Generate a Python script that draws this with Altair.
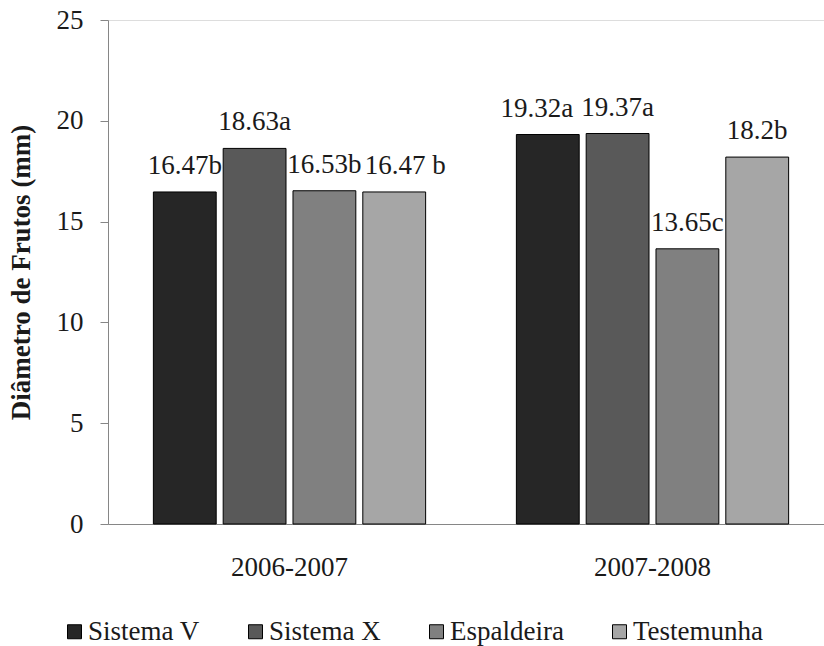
import altair as alt
import pandas as pd

periods = ["2006-2007", "2007-2008"]
systems = ["Sistema V", "Sistema X", "Espaldeira", "Testemunha"]
values_2006 = [16.47, 18.63, 16.53, 16.47]
values_2007 = [19.32, 19.37, 13.65, 18.2]
labels_2006 = ["16.47b", "18.63a", "16.53b", "16.47 b"]
labels_2007 = ["19.32a", "19.37a", "13.65c", "18.2b"]
colors = ["#262626", "#595959", "#808080", "#a6a6a6"]

rows = []
for period, vals, labs in [(periods[0], values_2006, labels_2006), (periods[1], values_2007, labels_2007)]:
    for s, v, l in zip(systems, vals, labs):
        rows.append({"period": period, "system": s, "value": v, "label": l})
df = pd.DataFrame(rows)

FONT = "Liberation Serif"
TXT = "#1a1a1a"

base = alt.Chart(df).encode(
    x=alt.X(
        "period:N",
        scale=alt.Scale(domain=periods, range=[0, 726], paddingInner=0, paddingOuter=0),
        axis=alt.Axis(title=None, ticks=False, labelPadding=30, labelAngle=0,
                      domainColor="#868686", labelFontSize=27, labelFont=FONT,
                      labelColor=TXT),
    ),
    xOffset=alt.XOffset("system:N",
                        scale=alt.Scale(domain=systems, paddingInner=0.1, paddingOuter=0.65)),
    y=alt.Y(
        "value:Q",
        scale=alt.Scale(domain=[0, 25]),
        axis=alt.Axis(values=[0, 5, 10, 15, 20, 25], tickSize=8, grid=False,
                      title="Diâmetro de Frutos (mm)", titleFont=FONT, titleFontSize=27,
                      titleFontWeight="bold", titleColor=TXT, titlePadding=21,
                      labelFont=FONT, labelFontSize=27, labelPadding=17, labelColor=TXT,
                      domainColor="#868686", tickColor="#868686"),
    ),
)

bars = base.mark_bar(stroke="black", strokeWidth=1).encode(
    color=alt.Color(
        "system:N",
        scale=alt.Scale(domain=systems, range=colors),
        legend=alt.Legend(orient="none", legendX=-47, legendY=598, direction="horizontal",
                          columns=4, symbolType="square", symbolSize=196,
                          symbolStrokeColor="black", symbolStrokeWidth=1,
                          labelFont=FONT, labelFontSize=27, labelColor=TXT,
                          labelOffset=0, columnPadding=42, title=None),
    )
)

text_style = dict(baseline="alphabetic", dy=-18, font=FONT, fontSize=27, color=TXT)
shift_left = "19.32a"
shift_right = "16.47 b"

text = base.mark_text(**text_style).encode(text="label:N").transform_filter(
    (alt.datum.label != shift_left) & (alt.datum.label != shift_right)
)
text_left = base.mark_text(dx=-11, **text_style).encode(text="label:N").transform_filter(
    alt.datum.label == shift_left
)
text_right = base.mark_text(dx=11, **text_style).encode(text="label:N").transform_filter(
    alt.datum.label == shift_right
)

chart = alt.layer(bars, text, text_left, text_right).properties(
    width=716, height=504,
    autosize=alt.AutoSizeParams(type="none"),
    padding={"left": 108, "top": 20, "right": 0, "bottom": 122},
).configure_view(stroke=None).configure(background="white")

chart.save("out.html", embed_options={"renderer": "svg", "actions": False})
